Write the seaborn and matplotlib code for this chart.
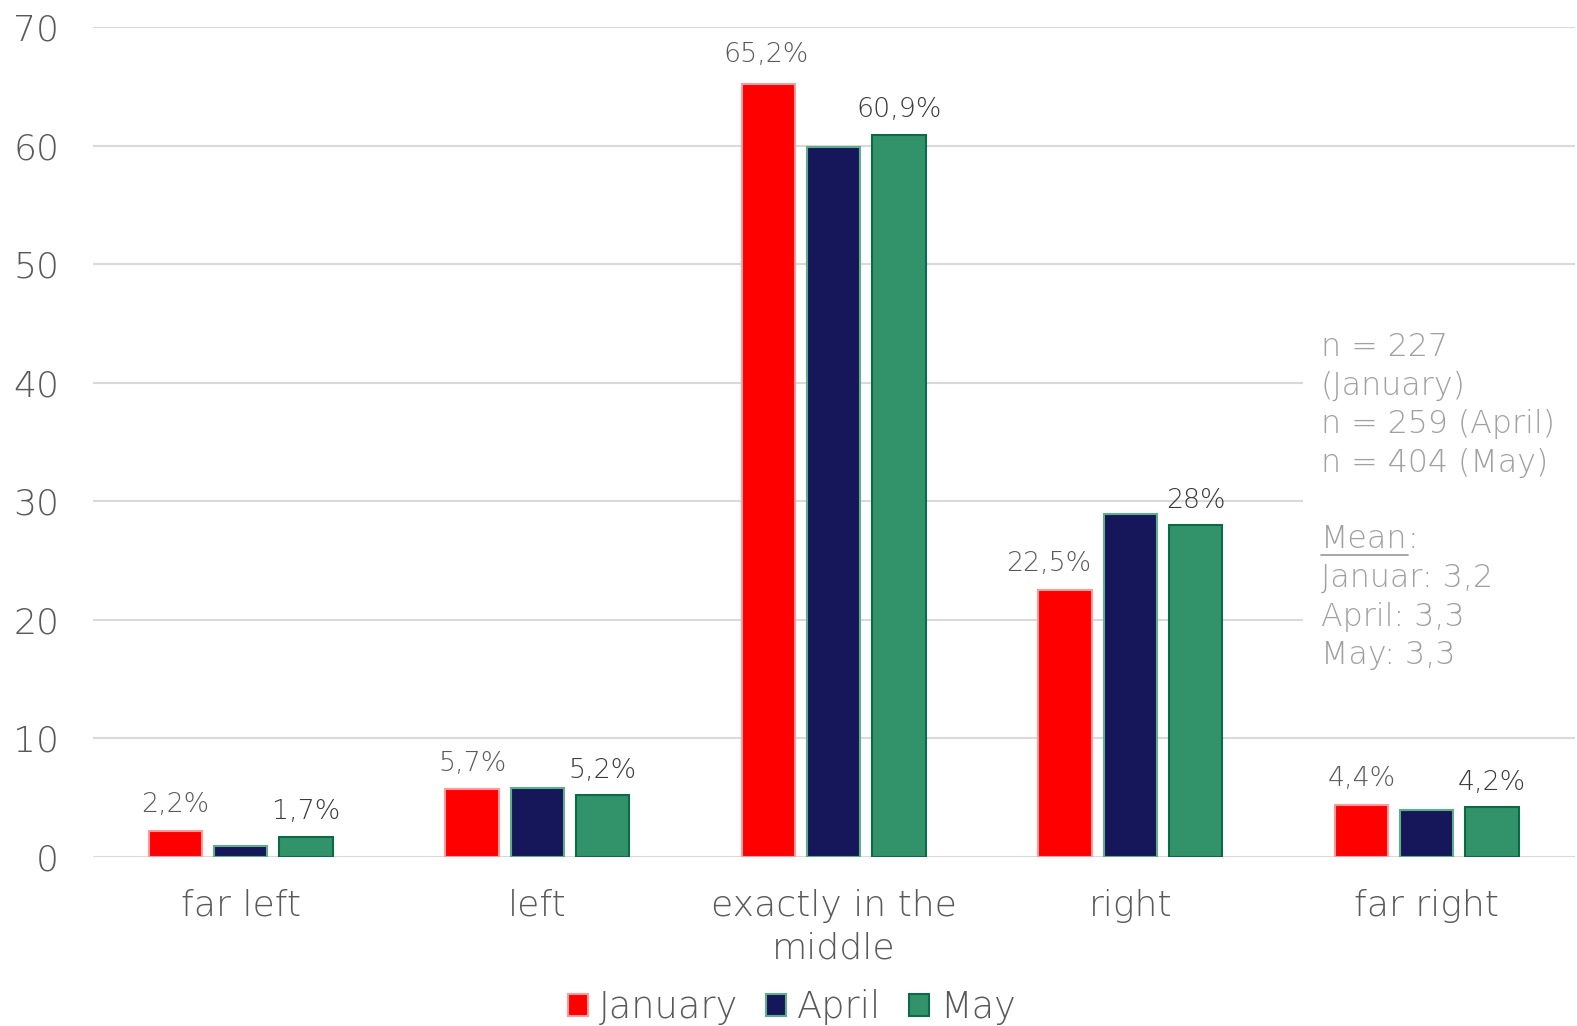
import matplotlib
matplotlib.use("Agg")
import matplotlib.pyplot as plt
from matplotlib.patches import Patch, Rectangle
from matplotlib.lines import Line2D
import seaborn as sns
import pandas as pd

# Survey answers: self-placement on the political spectrum (%)
categories = ["far left", "left", "exactly in the\nmiddle", "right", "far right"]
months = ["January", "April", "May"]
january = [2.2, 5.7, 65.2, 22.5, 4.4]
april = [0.9, 5.8, 59.9, 28.9, 4.0]
may = [1.7, 5.2, 60.9, 28.0, 4.2]
january_labels = ["2,2%", "5,7%", "65,2%", "22,5%", "4,4%"]
may_labels = ["1,7%", "5,2%", "60,9%", "28%", "4,2%"]
y_ticks = [0, 10, 20, 30, 40, 50, 60, 70]

sample_lines = ["n = 227", "(January)", "n = 259 (April)", "n = 404 (May)"]
mean_lines = ["Januar: 3,2", "April: 3,3", "May: 3,3"]

fill_colors = ["#ff0000", "#16175a", "#32936b"]
edge_colors = ["#ff9a9a", "#5fae8a", "#0b6a47"]

df = pd.DataFrame({
    "position": categories * 3,
    "share": january + april + may,
    "month": [m for m in months for _ in categories],
})

sns.set_theme(style="white")
plt.rcParams["font.family"] = ["DejaVu Sans"]

W, H = 1577, 1026
fig = plt.figure(figsize=(W / 100, H / 100), dpi=100)
ax = fig.add_axes([92.5 / W, 1 - 857 / H, (1575 - 92.5) / W, (857 - 27) / H])

sns.barplot(data=df, x="position", y="share", hue="month", order=categories,
            hue_order=months, palette=fill_colors, saturation=1, width=0.66,
            gap=0.18, legend=False, ax=ax, zorder=3)

for cont, ec in zip(ax.containers, edge_colors):
    for bar in cont:
        bar.set_edgecolor(ec)
        bar.set_linewidth(1.5)

jan_ann = ax.bar_label(ax.containers[0], labels=january_labels, padding=10,
                       fontsize=19.3, color="#595959", fontweight="light")
ax.bar_label(ax.containers[2], labels=may_labels, padding=9,
             fontsize=19.3, color="#3a3a3a", fontweight="light")
# nudge the "right" label left so it clears the taller April bar
dx, dy = jan_ann[3].xyann
jan_ann[3].xyann = (dx - 11.5, dy)
dx, dy = jan_ann[2].xyann
jan_ann[2].xyann = (dx - 2, dy + 2)

ax.set_xlim(-0.5, 4.5)
ax.set_ylim(0, 70)
ax.set_yticks(y_ticks)
ax.set_xlabel("")
ax.set_ylabel("")
for s in ax.spines.values():
    s.set_visible(False)
ax.yaxis.grid(True, color="#d9d9d9", linewidth=1.5)
ax.xaxis.grid(False)
ax.set_axisbelow(True)
ax.tick_params(axis="y", length=0, pad=24, labelsize=26, labelcolor="#595959")
ax.tick_params(axis="x", length=0, pad=23, labelsize=26, labelcolor="#595959")
for lbl in ax.get_xticklabels() + ax.get_yticklabels():
    lbl.set_fontweight("light")
for lbl in ax.get_xticklabels():
    lbl.set_linespacing(1.3)

# Note box on the right, masking the gridlines behind it
fig.add_artist(Rectangle((1303 / W, 1 - 672 / H), (W - 1303) / W, (672 - 325) / H,
                         transform=fig.transFigure, facecolor="white",
                         edgecolor="none", zorder=2))
note_kw = dict(fontsize=22.8, color="#a0a0a0", fontweight="light",
               ha="left", va="baseline", zorder=3)
x_note = 1321 / W
base = 356
step = 38.5
for i, line in enumerate(sample_lines):
    fig.text(x_note, 1 - (base + i * step) / H, line, **note_kw)
y_mean = base + 5 * step
mean_txt = fig.text(x_note, 1 - y_mean / H, "Mean", **note_kw)
fig.canvas.draw()
bb = mean_txt.get_window_extent()
fig.text(bb.x1 / W, 1 - y_mean / H, ":", **note_kw)
fig.add_artist(Line2D([bb.x0 / W, bb.x1 / W],
                      [1 - (y_mean + 6) / H] * 2,
                      transform=fig.transFigure, color="#a0a0a0", lw=1.3, zorder=3))
for i, line in enumerate(mean_lines):
    fig.text(x_note, 1 - (y_mean + (i + 1) * step) / H, line, **note_kw)

handles = [Patch(facecolor=fc, edgecolor=ec, linewidth=1.5)
           for fc, ec in zip(fill_colors, edge_colors)]
leg = fig.legend(handles, months, loc="center", ncol=3, frameon=False,
                 bbox_to_anchor=(792 / W, 1 - 1007 / H),
                 handlelength=0.55, handleheight=0.55, handletextpad=0.3,
                 columnspacing=0.75, borderaxespad=0,
                 prop={"size": 26.5, "weight": "light"})
for t in leg.get_texts():
    t.set_color("#595959")

fig.savefig("out.png", dpi=100, facecolor="white")
